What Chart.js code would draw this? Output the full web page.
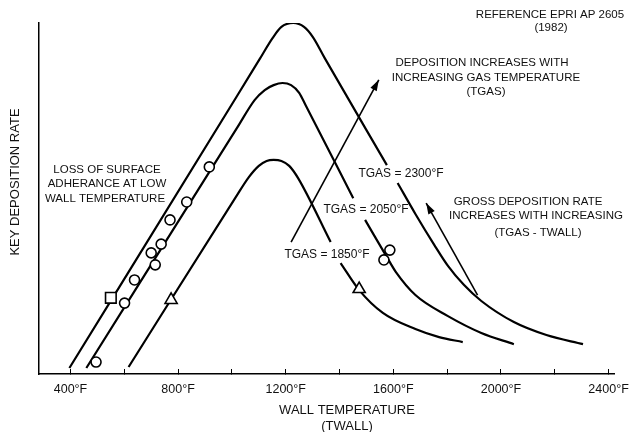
<!DOCTYPE html>
<html>
<head>
<meta charset="utf-8">
<script src="https://cdn.jsdelivr.net/npm/chart.js@4.4.1/dist/chart.umd.min.js"></script>
<style>
html,body{margin:0;padding:0;background:#fff;}
canvas{display:block;}
</style>
</head>
<body>
<canvas id="c" width="642" height="432"></canvas>
<script>
// ---- data (wall temperature °F, relative key deposition rate) ----
const TICK_VALUES = [400, 600, 800, 1000, 1200, 1400, 1600, 1800, 2000, 2200, 2400];
const TICK_LABEL_STEP = 400;

const TGAS_2300 = [[396,1.7],[1019,79.2],[1103,89.7],[1151,95.7],[1184,98.9],[1228,100],[1268,98.9],[1301,96.0],[1345,90.0],[1576,59.5],
  [1596,null],[1616,54.4],[1682,45.6],[1752,36.8],[1803,30.8],[1862,25.4],[1927,20.8],[2048,14.8],[2169,11.1],[2305,8.5]];
const TGAS_2050 = [[459,1.7],[1019,70.1],[1085,78.1],[1122,80.9],[1155,82.3],[1188,82.9],[1220,82.3],[1250,80.1],[1275,76.4],[1451,50.1],
  [1473,null],[1495,43.9],[1576,33.3],[1609,29.1],[1682,22.5],[1803,16.5],[1927,11.7],[2048,8.5]];
const TGAS_1850 = [[616,2.0],[1012,50.1],[1063,56.1],[1100,59.3],[1129,60.7],[1155,61.0],[1184,60.7],[1213,59.3],[1246,55.8],[1367,37.6],
  [1385,null],[1404,31.6],[1473,23.9],[1561,17.4],[1682,12.8],[1770,10.5],[1858,9.1]];

const SQUARE_PTS = [[550,21.7]];
const CIRCLE_PTS = [[495,3.4],[601,20.2],[638,26.8],[700,34.5],[715,31.1],[737,37.0],[770,43.9],[832,49.0],[916,59.0],[1565,32.5],[1587,35.3]];
const TRIANGLE_PTS = [[774,21.1],[1473,24.2]];

const ARROW_TGAS = [[1220,37.6],[1546,83.8]];
const ARROW_GROSS = [[1913,22.5],[1722,48.7]];

const X_TITLE = ['WALL TEMPERATURE', '(TWALL)'];
const Y_TITLE = 'KEY DEPOSITION RATE';

// ---- helpers ----
const xy = arr => arr.map(([x, y]) => ({x, y}));
const FONT = '"Liberation Sans", Arial, Helvetica, sans-serif';
Chart.defaults.font.family = FONT;
Chart.defaults.color = '#111';

const curve = (label, pts) => ({
  label, data: xy(pts), borderColor: '#000', borderWidth: 2.2, pointRadius: 0,
  cubicInterpolationMode: 'monotone', spanGaps: false, fill: false, order: 2
});
const markers = (label, pts, style, r) => ({
  label, data: xy(pts), showLine: false, pointStyle: style, pointRadius: r,
  pointBackgroundColor: '#fff', pointBorderColor: '#000', pointBorderWidth: 1.6, order: 0
});
const arrow = (label, pts) => ({
  label, data: xy(pts), borderColor: '#000', borderWidth: 1.6, pointRadius: 0, tension: 0, order: 1
});

// ---- annotations (text drawn onto the canvas) ----
const NOTES = [
  ['REFERENCE EPRI AP 2605', 550, 15],
  ['(1982)', 551, 28],
  ['DEPOSITION INCREASES WITH', 482, 63],
  ['INCREASING GAS TEMPERATURE', 486, 78],
  ['(TGAS)', 486, 92],
  ['LOSS OF SURFACE', 107, 170],
  ['ADHERANCE AT LOW', 107, 184],
  ['WALL TEMPERATURE', 105, 199],
  ['GROSS DEPOSITION RATE', 528, 202],
  ['INCREASES WITH INCREASING', 536, 216],
  ['(TGAS - TWALL)', 538, 233]
];
const CURVE_LABELS = [
  ['TGAS = 2300°F', 401, 174],
  ['TGAS = 2050°F', 366, 210],
  ['TGAS = 1850°F', 327, 255]
];

const annotPlugin = {
  id: 'annot',
  afterDraw(chart) {
    const ctx = chart.ctx;
    ctx.save();
    ctx.fillStyle = '#111';
    ctx.textAlign = 'center';
    ctx.textBaseline = 'middle';
    ctx.font = '11.5px ' + FONT;
    for (const [t, x, y] of NOTES) ctx.fillText(t, x, y);
    ctx.font = '12px ' + FONT;
    for (const [t, x, y] of CURVE_LABELS) ctx.fillText(t, x, y);

    // axis titles
    ctx.font = '13px ' + FONT;
    ctx.fillText(X_TITLE[0], 347, 410);
    ctx.fillText(X_TITLE[1], 347, 426);
    ctx.save();
    ctx.translate(15, 182);
    ctx.rotate(-Math.PI / 2);
    ctx.fillText(Y_TITLE, 0, 0);
    ctx.restore();

    // arrow heads at the end of the arrow datasets
    chart.data.datasets.forEach((ds, i) => {
      if (!ds.isArrow) return;
      const pts = chart.getDatasetMeta(i).data;
      const a = pts[0], b = pts[pts.length - 1];
      const ang = Math.atan2(b.y - a.y, b.x - a.x);
      const L = 11, W = 3.6;
      ctx.beginPath();
      ctx.moveTo(b.x, b.y);
      ctx.lineTo(b.x - L * Math.cos(ang) + W * Math.sin(ang), b.y - L * Math.sin(ang) - W * Math.cos(ang));
      ctx.lineTo(b.x - L * Math.cos(ang) - W * Math.sin(ang), b.y - L * Math.sin(ang) + W * Math.cos(ang));
      ctx.closePath();
      ctx.fillStyle = '#000';
      ctx.fill();
    });
    ctx.restore();
  }
};

const arrowTgas = Object.assign(arrow('Tgas arrow', ARROW_TGAS), {isArrow: true});
const arrowGross = Object.assign(arrow('Gross arrow', ARROW_GROSS), {isArrow: true});

new Chart(document.getElementById('c'), {
  type: 'line',
  data: {
    datasets: [
      curve('TGAS = 2300°F', TGAS_2300),
      curve('TGAS = 2050°F', TGAS_2050),
      curve('TGAS = 1850°F', TGAS_1850),
      markers('Square', SQUARE_PTS, 'rect', 7.5),
      markers('Circle', CIRCLE_PTS, 'circle', 5),
      markers('Triangle', TRIANGLE_PTS, 'triangle', 7),
      arrowTgas,
      arrowGross
    ]
  },
  options: {
    responsive: false,
    devicePixelRatio: 1,
    animation: false,
    layout: {padding: {top: 23, right: 19, left: 0, bottom: 0}},
    plugins: {legend: {display: false}, tooltip: {enabled: false}, title: {display: false}},
    scales: {
      x: {
        type: 'linear', min: 283, max: 2422,
        afterBuildTicks: s => { s.ticks = TICK_VALUES.map(v => ({value: v})); },
        afterFit: s => { s.height = 58; },
        ticks: {
          autoSkip: false, maxRotation: 0, padding: 13,
          font: {size: 12.5}, color: '#111',
          callback: v => (v % TICK_LABEL_STEP === 0 ? v + '°F' : '')
        },
        grid: {display: true, drawOnChartArea: false, drawTicks: true, tickLength: -5, color: '#000', lineWidth: 1},
        border: {display: true, color: '#000', width: 1.5}
      },
      y: {
        type: 'linear', min: 0, max: 100,
        afterFit: s => { s.width = 39; },
        ticks: {display: false},
        grid: {display: false, drawTicks: false},
        border: {display: true, color: '#000', width: 1.5}
      }
    }
  },
  plugins: [annotPlugin]
});
</script>
</body>
</html>
